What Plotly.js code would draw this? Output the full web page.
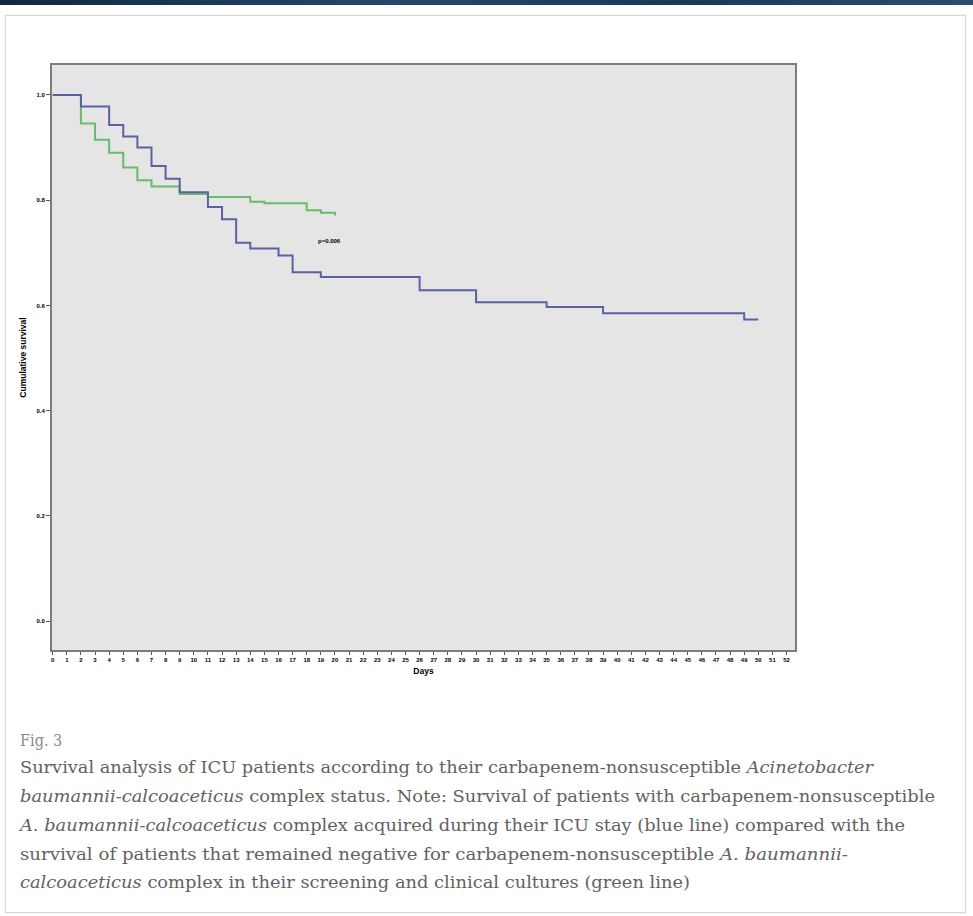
<!DOCTYPE html>
<html>
<head>
<meta charset="utf-8">
<script src="https://cdn.plot.ly/plotly-3.0.1.min.js"></script>
<style>
  html, body { margin: 0; padding: 0; background: #ffffff; }
  body { width: 973px; height: 916px; position: relative; overflow: hidden; }
  #band { position: absolute; left: 0; top: 0; width: 973px; height: 5px;
          background: linear-gradient(90deg, #12283f, #24476b 40%, #1b3856 70%, #2a4d70); }
  #card { position: absolute; left: 5px; top: 15px; width: 959px; height: 896px;
          border: 1px solid #d9d9d9; box-shadow: 0 0 2px #e6e6e6; background: #fff; }
  #chart { position: absolute; left: 0; top: 0; width: 973px; height: 916px; }
  .cap { position: absolute; left: 20px; white-space: nowrap; font-family: "DejaVu Serif", serif;
         font-size: 17px; color: #626262; transform-origin: 0 50%; line-height: 20px; }
</style>
</head>
<body>
<div id="band"></div>
<div id="card"></div>
<div id="chart"></div>
<div id="captions"></div>
<script>
// ---- data ----
const blueDays = [0, 2, 4, 5, 6, 7, 8, 9, 11, 12, 13, 14, 16, 17, 19, 26, 30, 35, 39, 49, 50];
const blueSurv = [1.0, 0.978, 0.943, 0.921, 0.900, 0.865, 0.841, 0.815, 0.787, 0.764, 0.719, 0.708, 0.695, 0.663, 0.654, 0.629, 0.606, 0.597, 0.585, 0.573, 0.573];
const greenDays = [0, 2, 3, 4, 5, 6, 7, 9, 11, 14, 15, 18, 19, 20];
const greenSurv = [1.0, 0.946, 0.915, 0.890, 0.862, 0.838, 0.826, 0.812, 0.806, 0.797, 0.794, 0.781, 0.776, 0.771];
const xTicks = Array.from({length: 53}, (_, i) => i);
const yTicks = [0.0, 0.2, 0.4, 0.6, 0.8, 1.0];
const yTickLabels = ["0.0", "0.2", "0.4", "0.6", "0.8", "1.0"];
const pLabel = "p=0.006";
const xTitle = "Days";
const yTitle = "Cumulative survival";
const figLabel = "Fig. 3";
const captionLines = [
  "Survival analysis of ICU patients according to their carbapenem-nonsusceptible <i>Acinetobacter</i>",
  "<i>baumannii-calcoaceticus</i> complex status. Note: Survival of patients with carbapenem-nonsusceptible",
  "<i>A. baumannii-calcoaceticus</i> complex acquired during their ICU stay (blue line) compared with the",
  "survival of patients that remained negative for carbapenem-nonsusceptible <i>A. baumannii-</i>",
  "<i>calcoaceticus</i> complex in their screening and clinical cultures (green line)"
];

const traces = [
  { x: greenDays, y: greenSurv, mode: 'lines', line: { shape: 'hv', color: '#68bb6c', width: 2 },
    hoverinfo: 'skip', showlegend: false },
  { x: blueDays, y: blueSurv, mode: 'lines', line: { shape: 'hv', color: '#5963a3', width: 2 },
    hoverinfo: 'skip', showlegend: false }
];

const tickFont = { family: 'Liberation Sans, Arial, sans-serif', size: 6, color: '#000', weight: 'bold' };
const layout = {
  width: 973, height: 916,
  margin: { l: 52, r: 178, t: 65, b: 266 },
  paper_bgcolor: 'rgba(0,0,0,0)',
  plot_bgcolor: '#e5e5e5',
  xaxis: {
    range: [-0.05, 52.6], tickvals: xTicks, ticktext: xTicks.map(String),
    showgrid: false, zeroline: false, showline: true, linecolor: '#7d7d7d', linewidth: 2, mirror: true,
    ticks: 'outside', ticklen: 3, tickcolor: '#555', tickwidth: 1, tickangle: 0,
    tickfont: tickFont, fixedrange: true,
    title: { text: '<b>' + xTitle + '</b>', font: { family: 'Liberation Sans, Arial, sans-serif', size: 8.5, color: '#000' }, standoff: 6 }
  },
  yaxis: {
    range: [-0.055, 1.057], tickvals: yTicks, ticktext: yTickLabels,
    showgrid: false, zeroline: false, showline: true, linecolor: '#7d7d7d', linewidth: 2, mirror: true,
    ticks: 'outside', ticklen: 4, tickcolor: '#555', tickwidth: 1,
    tickfont: tickFont, fixedrange: true,
    title: { text: '<b>' + yTitle + '</b>', font: { family: 'Liberation Sans, Arial, sans-serif', size: 8.5, color: '#000' }, standoff: 8 }
  },
  annotations: [
    { x: 19.6, y: 0.722, xref: 'x', yref: 'y', text: '<b>' + pLabel + '</b>', showarrow: false,
      font: { family: 'Liberation Sans, Arial, sans-serif', size: 6, color: '#000' } }
  ]
};

Plotly.newPlot('chart', traces, layout, { displayModeBar: false, staticPlot: true });

// caption text (HTML), each line fitted to the reference's width
const capBox = document.getElementById('captions');
const fig = document.createElement('div');
fig.className = 'cap';
fig.style.top = (740 - 10) + 'px';
fig.style.color = '#8a8a8a';
fig.textContent = figLabel;
capBox.appendChild(fig);
fig.style.transform = 'scaleX(0.85)';
const lineCenters = [767, 796, 825, 854, 882];
const lineRight = [873, 935, 905, 848, 690];
captionLines.forEach((t, i) => {
  const d = document.createElement('div');
  d.className = 'cap';
  d.style.top = (lineCenters[i] - 10) + 'px';
  d.innerHTML = t;
  capBox.appendChild(d);
  const w = d.getBoundingClientRect().width;
  const target = lineRight[i] - 20;
  d.style.transform = 'scaleX(' + (target / w).toFixed(4) + ')';
});
</script>
</body>
</html>
